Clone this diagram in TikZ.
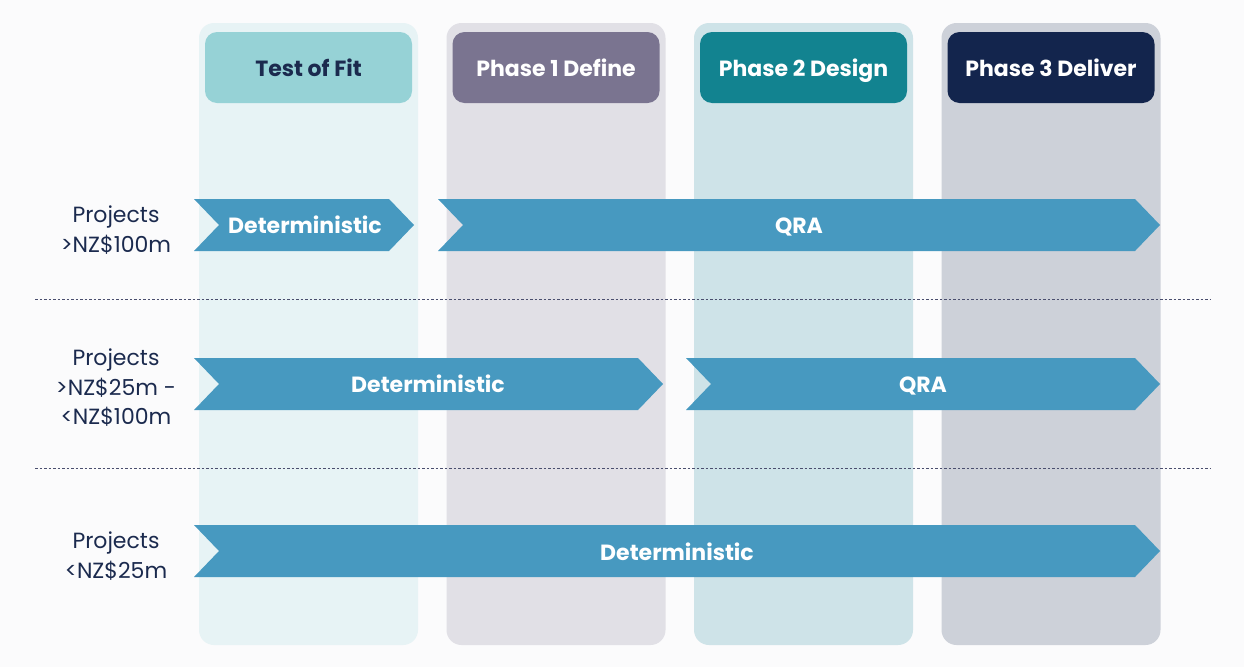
\documentclass[tikz,border=0pt]{standalone}
\usepackage{fontspec}
\setmainfont{Poppins}
\definecolor{pagebg}{HTML}{FBFBFC}
\definecolor{navy}{HTML}{1B2A4E}
\definecolor{colA}{HTML}{E7F3F5}
\definecolor{colB}{HTML}{E1E0E6}
\definecolor{colC}{HTML}{CEE3E8}
\definecolor{colD}{HTML}{CDD1D9}
\definecolor{hdA}{HTML}{96D2D6}
\definecolor{hdB}{HTML}{7A7490}
\definecolor{hdC}{HTML}{128390}
\definecolor{hdD}{HTML}{13254D}
\definecolor{chevblue}{HTML}{4799C0}
\definecolor{rule}{HTML}{4A4E6E}
\tikzset{
  column/.style={rounded corners=15pt, minimum width=219pt, minimum height=622pt, inner sep=0pt},
  header/.style={rounded corners=12pt, minimum width=207pt, minimum height=71pt, inner sep=0pt},
  bold text/.style={font=\fontsize{22}{26}\selectfont\bfseries, text=white, inner sep=0pt, anchor=base},
  chev/.style={fill=chevblue},
  rowlabel/.style={font=\fontsize{22}{29.5}\selectfont, text=navy, align=center, inner sep=0pt},
  divider/.style={rule, line width=1pt, dash pattern=on 2.5pt off 2pt},
}
\begin{document}
\begin{tikzpicture}[x=1pt, y=-1pt]
\fill[pagebg] (0,0) rectangle (1244,667);
\useasboundingbox (0,0) rectangle (1244,667);

% phase columns
\node[column, fill=colA] (colfit) at (308.5,334) {};
\node[column, fill=colB] (colone) at (556,334) {};
\node[column, fill=colC] (coltwo) at (803.5,334) {};
\node[column, fill=colD] (colthree) at (1051,334) {};

% phase headers (box, then caption on its baseline)
\node[header, fill=hdA] (hfit) at (308.5,67.5) {};
\node[header, fill=hdB] (hone) at (556,67.5) {};
\node[header, fill=hdC] (htwo) at (803.5,67.5) {};
\node[header, fill=hdD] (hthree) at (1051,67.5) {};
\node[bold text, text=navy] (tfit) at (308.5,76.5) {Test of Fit};
\node[bold text] (tone) at (556,76.5) {Phase 1 Define};
\node[bold text] (ttwo) at (803.5,76.5) {Phase 2 Design};
\node[bold text] (tthree) at (1051,76.5) {Phase 3 Deliver};

% row dividers
\coordinate (d1a) at (35,299);
\coordinate (d1b) at (1211,299);
\coordinate (d2a) at (35,468);
\coordinate (d2b) at (1211,468);
\draw[divider] (d1a) -- (d1b);
\draw[divider] (d2a) -- (d2b);

% row labels
\node[rowlabel] (lbla) at (116,230) {Projects\\>NZ\$100m};
\node[rowlabel] (lblb) at (116,388) {Projects\\>NZ\$25m -\\<NZ\$100m};
\node[rowlabel] (lblc) at (116,556) {Projects\\<NZ\$25m};

% row 1 chevrons
\fill[chev] (194,199) -- (389,199) -- (414,225) -- (389,251) -- (194,251) -- (219,225) -- cycle;
\node[bold text] (r1det) at (305,233) {Deterministic};
\fill[chev] (438,199) -- (1135,199) -- (1160,225) -- (1135,251) -- (438,251) -- (463,225) -- cycle;
\node[bold text] (r1qra) at (799,233) {QRA};

% row 2 chevrons
\fill[chev] (194,358) -- (638,358) -- (663,384) -- (638,410) -- (194,410) -- (219,384) -- cycle;
\node[bold text] (r2det) at (428,392) {Deterministic};
\fill[chev] (686,358) -- (1135,358) -- (1160,384) -- (1135,410) -- (686,410) -- (711,384) -- cycle;
\node[bold text] (r2qra) at (923,392) {QRA};

% row 3 chevron
\fill[chev] (194,525) -- (1135,525) -- (1160,551) -- (1135,577) -- (194,577) -- (219,551) -- cycle;
\node[bold text] (r3det) at (677,560) {Deterministic};
\end{tikzpicture}
\end{document}
